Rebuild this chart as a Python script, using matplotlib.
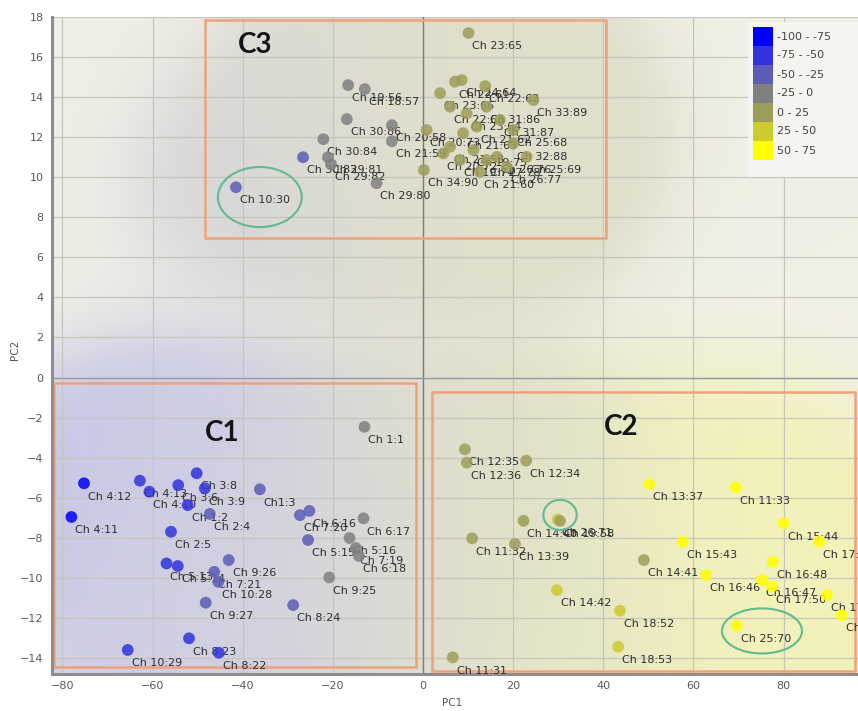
import numpy as np
import matplotlib
matplotlib.use("Agg")
import matplotlib.pyplot as plt
from matplotlib.colors import ListedColormap, BoundaryNorm, LinearSegmentedColormap, to_rgb
from matplotlib.patches import Rectangle, Ellipse

# score classes shown in the key
bin_edges = [-100, -75, -50, -25, 0, 25, 50, 75]
bin_colors = ["#0000ff", "#3232de", "#5c5cb6", "#808080", "#9d9d5a", "#cccc2e", "#ffff00"]
bin_labels = ["-100 - -75", "-75 - -50", "-50 - -25", "-25 - 0", "0 - 25", "25 - 50", "50 - 75"]

# samples: name, PC1, PC2, score
names = [
    # upper group
    "Ch 19:56", "Ch 18:57", "Ch 30:86", "Ch 20:58", "Ch 21:59", "Ch 30:84", "Ch 29:81",
    "Ch 29:82", "Ch 29:80", "Ch 30:83", "Ch 10:30",
    "Ch 23:65", "Ch 22:61", "Ch 24:64", "Ch 23:66", "Ch 22:62", "Ch 33:89", "Ch 20:73",
    "Ch 21:63", "Ch 34:90", "Ch 21:60", "Ch 22:63", "Ch 23:64", "Ch 31:86", "Ch 31:87",
    "Ch 25:68", "Ch 21:62", "Ch 21:58", "Ch 19:75", "Ch 26:76", "Ch 32:88", "Ch 25:69",
    "Ch 20:72", "Ch 27:78", "Ch 26:77", "Ch 19:74",
    # lower left group
    "Ch 1:1", "Ch 4:12", "Ch 4:11", "Ch 4:13", "Ch 4:10", "Ch 3:6", "Ch 3:8", "Ch 3:9",
    "Ch 1:2", "Ch 2:4", "Ch1:3", "Ch 7:20", "Ch 6:16", "Ch 5:15", "Ch 2:5", "Ch 5:13",
    "Ch 5:14", "Ch 9:26", "Ch 7:21", "Ch 10:28", "Ch 9:27", "Ch 8:24", "Ch 8:23",
    "Ch 10:29", "Ch 8:22", "Ch 6:17", "Ch 5:16", "Ch 7:19", "Ch 6:18", "Ch 9:25",
    # lower right group
    "Ch 12:35", "Ch 12:36", "Ch 12:34", "Ch 14:40", "Ch 26:71", "Ch 19:58", "Ch 11:32",
    "Ch 13:39", "Ch 14:42", "Ch 18:52", "Ch 18:53", "Ch 11:31", "Ch 13:37", "Ch 11:33",
    "Ch 15:44", "Ch 17:49", "Ch 15:43", "Ch 14:41", "Ch 16:46", "Ch 16:47", "Ch 16:48",
    "Ch 17:50", "Ch 17:51", "Ch 17:52", "Ch 25:70",
]
pc1 = [
    -16.6, -12.9, -16.9, -6.9, -6.9, -22.1, -21.1,
    -20.4, -10.3, -26.6, -41.5,
    10.1, 7.1, 8.6, 3.8, 13.8, 24.5, 0.8,
    8.9, 0.2, 12.6, 6.0, 9.7, 14.1, 17.1,
    20.0, 11.9, 6.0, 11.2, 16.4, 20.0, 23.0,
    4.5, 14.1, 18.6, 8.2,
    -13.0, -75.2, -78.0, -62.8, -60.7, -54.3, -50.2, -48.4,
    -52.2, -47.3, -36.2, -27.3, -25.2, -25.5, -55.9, -56.9,
    -54.4, -43.1, -46.3, -45.4, -48.2, -28.8, -51.9,
    -65.5, -45.3, -13.2, -16.3, -14.9, -14.2, -20.8,
    9.3, 9.7, 22.9, 22.3, 29.9, 30.4, 10.9,
    20.4, 29.7, 43.7, 43.3, 6.6, 50.2, 69.4,
    80.0, 87.9, 57.6, 49.0, 62.8, 75.2, 77.6,
    77.4, 89.6, 92.9, 69.6,
]
pc2 = [
    14.6, 14.4, 12.9, 12.6, 11.8, 11.9, 11.0,
    10.65, 9.7, 11.0, 9.5,
    17.2, 14.77, 14.85, 14.2, 14.55, 13.85, 12.36,
    12.2, 10.36, 10.27, 13.52, 13.19, 13.52, 12.86,
    12.36, 12.52, 11.52, 11.36, 11.02, 11.69, 11.02,
    11.19, 10.86, 10.52, 10.86,
    -2.46, -5.28, -6.96, -5.15, -5.7, -5.37, -4.78, -5.53,
    -6.37, -6.81, -5.58, -6.87, -6.66, -8.11, -7.7, -9.28,
    -9.41, -9.11, -9.7, -10.2, -11.24, -11.36, -13.02,
    -13.6, -13.74, -7.03, -8.01, -8.51, -8.91, -9.98,
    -3.58, -4.25, -4.15, -7.15, -7.08, -7.16, -8.03,
    -8.31, -10.61, -11.64, -13.44, -13.97, -5.32, -5.48,
    -7.28, -8.2, -8.2, -9.11, -9.86, -10.11, -9.2,
    -10.44, -10.86, -11.86, -12.39,
]
score = [
    -10, -10, -10, -10, -10, -10, -10,
    -10, -10, -40, -40,
    10, 10, 10, 10, 10, 10, 10,
    10, 10, 10, 10, 10, 10, 10,
    10, 10, 10, 10, 10, 10, 10,
    10, 10, 10, 10,
    -10, -85, -85, -65, -65, -65, -65, -60,
    -60, -40, -35, -45, -45, -45, -60, -60,
    -60, -35, -40, -45, -35, -45, -60,
    -65, -55, -10, -10, -10, -10, -10,
    10, 10, 12, 12, 30, 20, 10,
    12, 30, 35, 30, 10, 60, 60,
    60, 60, 60, 20, 60, 60, 60,
    60, 60, 60, 60,
]

# cluster boxes
cluster_names = ["C1", "C2", "C3"]
cluster_x0 = [-81.9, 2.0, -48.4]
cluster_x1 = [-1.55, 95.9, 40.6]
cluster_y0 = [-14.45, -14.65, 6.96]
cluster_y1 = [-0.27, -0.72, 17.85]
cluster_tx = [-44.6, 44.0, -37.3]
cluster_ty = [-2.77, -2.47, 16.6]

# highlighted samples
ring_x = [-36.2, 30.4, 75.2]
ring_y = [9.01, -6.86, -12.65]
ring_w = [18.6, 7.4, 17.75]
ring_h = [3.0, 1.5, 2.25]

xmin, xmax = -82.3, 96.5
ymin, ymax = -14.8, 18.0

W_PX, H_PX = 858, 711
fig = plt.figure(figsize=(W_PX / 100, H_PX / 100), dpi=100)
fig.patch.set_facecolor("white")
ax_l, ax_b, ax_w, ax_h = 52, 37, 806, 657
ax = fig.add_axes([ax_l / W_PX, ax_b / H_PX, ax_w / W_PX, ax_h / H_PX])
ax.set_xlim(xmin, xmax)
ax.set_ylim(ymin, ymax)

# smooth score surface behind the points
x_arr = np.array(pc1)
y_arr = np.array(pc2)
s_arr = np.array(score, dtype=float)
gx = np.linspace(xmin, xmax, 430)
gy = np.linspace(ymin, ymax, 330)
GX, GY = np.meshgrid(gx, gy)
sx = ax_w / (xmax - xmin)
sy = ax_h / (ymax - ymin)
sigma = 70.0
d2 = ((GX[None] - x_arr[:, None, None]) * sx) ** 2 + ((GY[None] - y_arr[:, None, None]) * sy) ** 2
wts = np.exp(-d2 / (2 * sigma ** 2))
dens = wts.sum(axis=0)
field = (wts * s_arr[:, None, None]).sum(axis=0) / (dens + 1e-9)
smooth_cmap = LinearSegmentedColormap.from_list("score_smooth", bin_colors)
centers = [(a + b) / 2 for a, b in zip(bin_edges[:-1], bin_edges[1:])]
fn = np.clip((field - centers[0]) / (centers[-1] - centers[0]), 0, 1)
tint = smooth_cmap(fn)[..., :3]
alpha_f = (0.19 * (1 - np.exp(-dens / 0.8)))[..., None]
base = np.array(to_rgb("#f1f0e6"))
rgb = base * (1 - alpha_f) + tint * alpha_f
ax.imshow(rgb, extent=(xmin, xmax, ymin, ymax), origin="lower", aspect="auto",
          interpolation="bilinear", zorder=0)

# grid and zero lines
ax.set_xticks(np.arange(-80, 81, 20))
ax.set_yticks(np.arange(-14, 19, 2))
ax.grid(True, color="#c6c6bd", lw=0.9)
ax.set_axisbelow(True)
ax.axvline(0, color="#7c7c7c", lw=1.0, zorder=1)
ax.axhline(0, color="#9a9aa6", lw=1.0, zorder=1)

for side in ("top", "right"):
    ax.spines[side].set_visible(False)
for side in ("left", "bottom"):
    ax.spines[side].set_color("#8e8e8e")
    ax.spines[side].set_linewidth(2.2)
ax.tick_params(length=0, labelsize=8, labelcolor="#5a5a5a")
ax.tick_params(axis="y", pad=6)
ax.tick_params(axis="x", pad=5)

# cluster boxes and titles
for nm, x0, x1, y0, y1, tx, ty in zip(cluster_names, cluster_x0, cluster_x1,
                                      cluster_y0, cluster_y1, cluster_tx, cluster_ty):
    ax.add_patch(Rectangle((x0, y0), x1 - x0, y1 - y0, fill=False,
                           ec="#eea27c", lw=1.8, zorder=2))
    ax.text(tx, ty, nm, fontsize=20, fontweight="bold", family="Lato",
            ha="center", va="center", color="#141414", zorder=6)

# point labels sit under the semi-transparent markers
for nm, x, y in zip(names, pc1, pc2):
    ax.annotate(nm, (x, y), xytext=(2.8, -9.5), textcoords="offset points",
                fontsize=8, color="#2e2e2e", ha="left", va="center",
                zorder=3, clip_on=True)

cmap = ListedColormap(bin_colors)
norm = BoundaryNorm(bin_edges, cmap.N)
ax.scatter(pc1, pc2, c=score, cmap=cmap, norm=norm, s=72, alpha=0.85,
           linewidths=0, zorder=4)

for cx, cy, w, h in zip(ring_x, ring_y, ring_w, ring_h):
    ax.add_patch(Ellipse((cx, cy), w, h, fill=False, ec="#62ba90", lw=1.5, zorder=5))

# axis titles
fig.text(452 / W_PX, 1 - 703 / H_PX, "PC1", ha="center", va="center",
         fontsize=7.5, color="#555555")
fig.text(15 / W_PX, 1 - 350 / H_PX, "PC2", ha="center", va="center",
         rotation=90, fontsize=7.5, color="#555555")

# key
lax = fig.add_axes([748 / W_PX, 1 - 177 / H_PX, 110 / W_PX, 155 / H_PX])
lax.set_facecolor("#f4f4f0")
lax.set_xlim(0, 110)
lax.set_ylim(155, 0)
for sp in lax.spines.values():
    sp.set_visible(False)
lax.set_xticks([])
lax.set_yticks([])
rows = 5 + 9.5 + 19 * np.arange(len(bin_colors))
lax.barh(rows, 20, left=5, height=19, color=bin_colors, linewidth=0)
for r, lab in zip(rows, bin_labels):
    lax.text(29, r, lab, fontsize=8, color="#444444", ha="left", va="center")

fig.savefig("out.png", dpi=100)
